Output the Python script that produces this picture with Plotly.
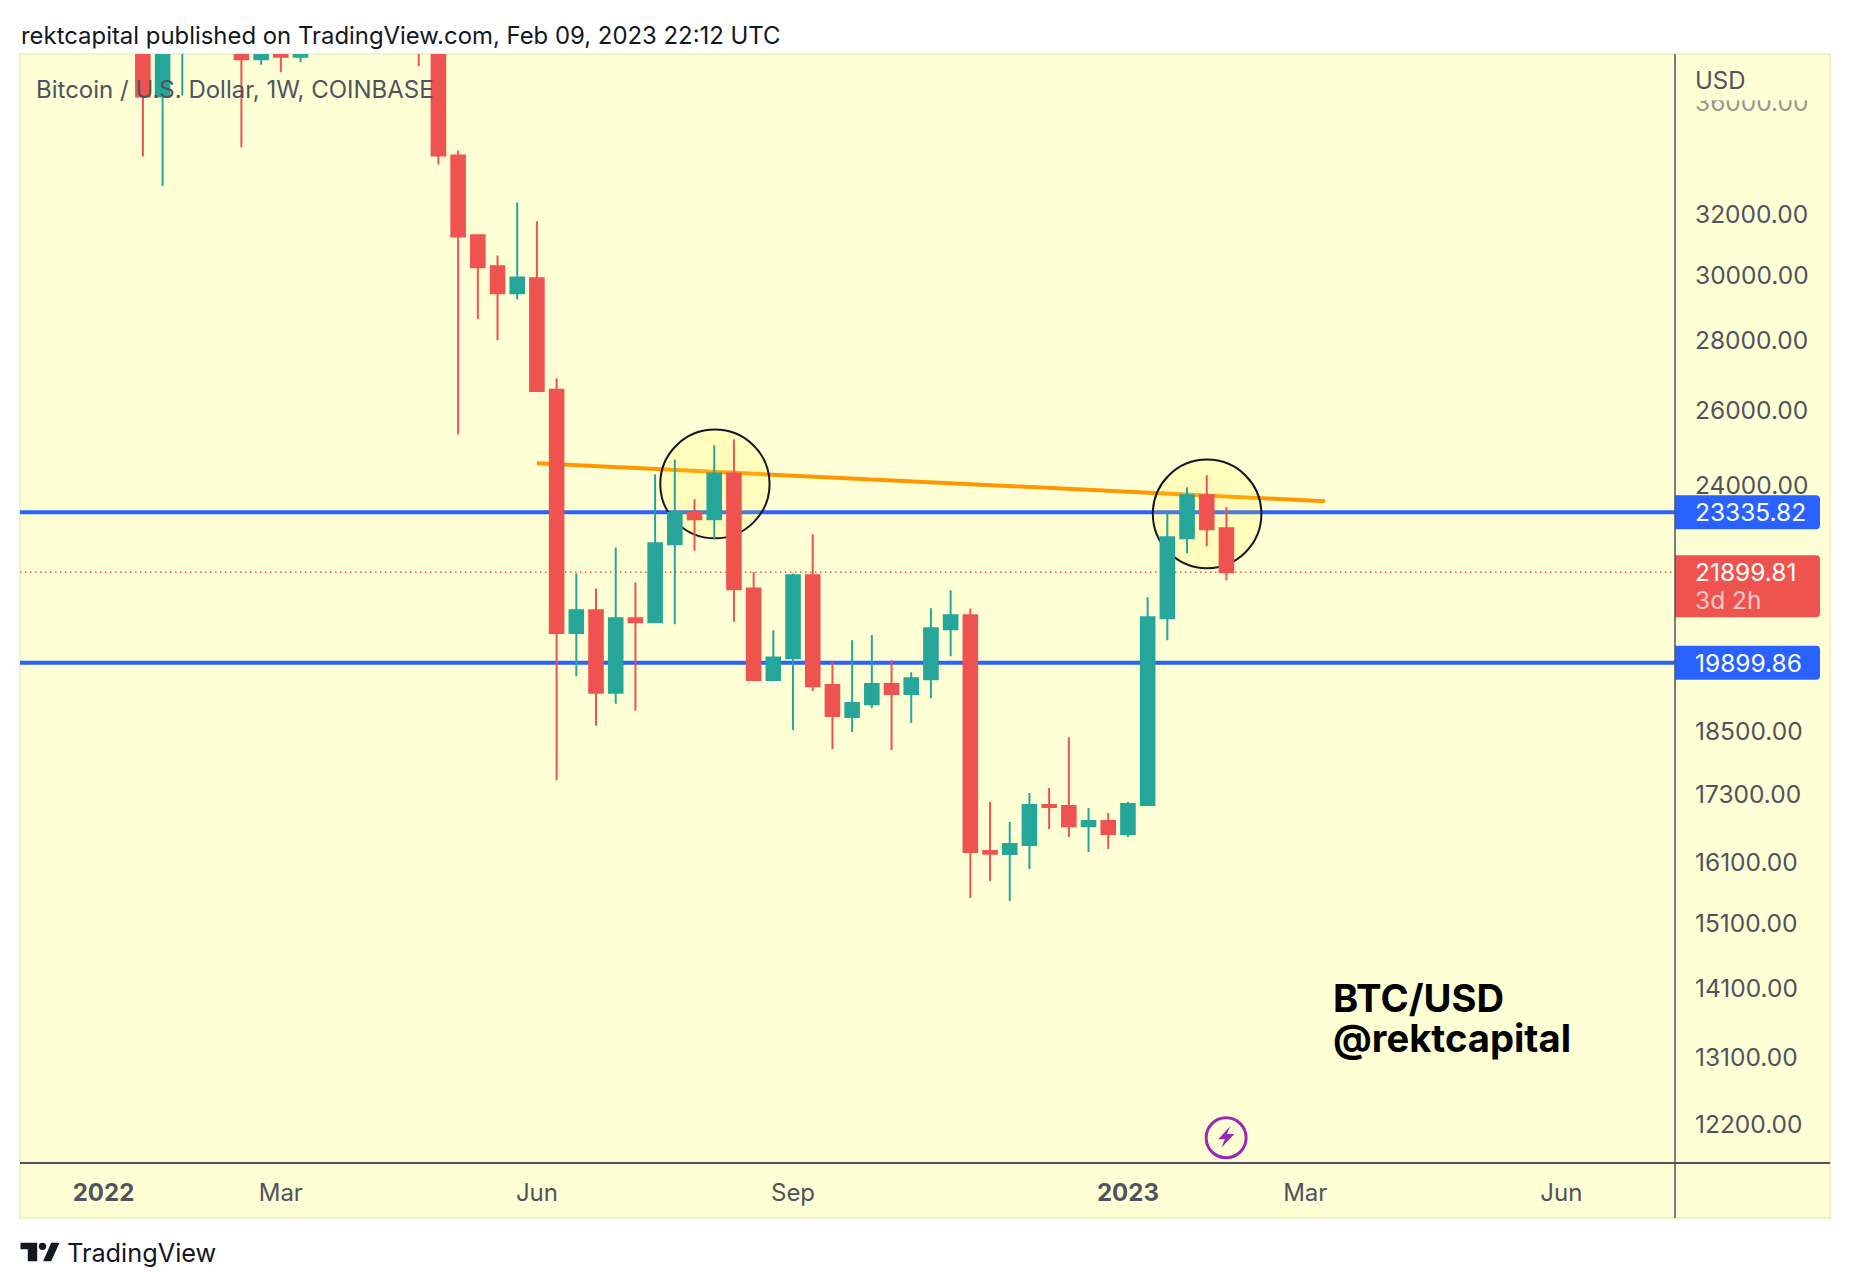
"""BTC/USD weekly chart in the TradingView style, rebuilt with Plotly."""
import math

import plotly.graph_objects as go

# chart frame in page pixels
LEFT, RIGHT, TOP, BOTTOM = 19.5, 1675, 53.5, 1163
PANEL_RIGHT, PANEL_BOTTOM = 1830, 1218
# the page body keeps its default margin around the figure
BODY_MARGIN = 8
FIG_W, FIG_H = 1850 - 2 * BODY_MARGIN, 1288 - 2 * BODY_MARGIN

BG = "#ffffd6"
TEXT = "#50535e"
RED = "#ef5350"
GREEN = "#26a69a"
BLUE = "#2962ff"
ORANGE = "#ff9800"
PURPLE = "#9c27b0"
INK = "#131722"
FONT = "Inter"

weeks = [
    "2022-01-17", "2022-01-24", "2022-01-31", "2022-02-21", "2022-02-28", "2022-03-07",
    "2022-03-14", "2022-04-25", "2022-05-02", "2022-05-09", "2022-05-16", "2022-05-23",
    "2022-05-30", "2022-06-06", "2022-06-13", "2022-06-20", "2022-06-27", "2022-07-04",
    "2022-07-11", "2022-07-18", "2022-07-25", "2022-08-01", "2022-08-08", "2022-08-15",
    "2022-08-22", "2022-08-29", "2022-09-05", "2022-09-12", "2022-09-19", "2022-09-26",
    "2022-10-03", "2022-10-10", "2022-10-17", "2022-10-24", "2022-10-31", "2022-11-07",
    "2022-11-14", "2022-11-21", "2022-11-28", "2022-12-05", "2022-12-12", "2022-12-19",
    "2022-12-26", "2023-01-02", "2023-01-09", "2023-01-16", "2023-01-23", "2023-01-30",
    "2023-02-06",
]
opens = [
    43000, 36240, 38000, 38400, 37700, 39400,
    37800, 39500, 38500, 34047, 31285, 30275,
    29422, 29893, 26566, 20536, 21036, 19275,
    20857, 20771, 22559, 23318, 23162, 24310,
    21526, 19536, 19994, 21830, 19434, 18785,
    19043, 19453, 19248, 19555, 20618, 20925,
    16301, 16250, 16406, 17114, 17096, 16736,
    16829, 16598, 17114, 20857, 22701, 23760,
    22944,
]
highs = [
    43500, 38900, 41700, 39700, 45400, 42600,
    42300, 40800, 40000, 34228, 31307, 30628,
    32396, 31751, 26890, 21870, 21526, 22480,
    21662, 24291, 24675, 23658, 25050, 25210,
    21907, 20594, 21870, 22800, 19939, 20378,
    20490, 19952, 19699, 21082, 21488, 21075,
    17168, 16810, 17334, 17427, 18390, 17060,
    16970, 17168, 21328, 23360, 23962, 24269,
    23459,
]
lows = [
    34012, 32959, 36280, 34347, 37478, 37185,
    37580, 37421, 33725, 25337, 28623, 27994,
    29235, 26529, 17571, 19616, 18614, 19052,
    18912, 20771, 20727, 22400, 22678, 20778,
    19515, 19536, 18528, 19312, 18160, 18489,
    18963, 18141, 18666, 19165, 20035, 15510,
    15792, 15462, 15993, 16686, 16544, 16285,
    16336, 16544, 17114, 20378, 22342, 22512,
    21715,
]
closes = [
    36240, 37900, 41400, 37700, 39400, 37800,
    41300, 38500, 34047, 31250, 30242, 29422,
    29923, 26529, 20536, 21036, 19275, 20857,
    20771, 22579, 23318, 23162, 24310, 21510,
    19536, 20010, 21830, 19411, 18806, 19066,
    19453, 19248, 19574, 20640, 20925, 16285,
    16255, 16422, 17114, 17078, 16736, 16829,
    16598, 17133, 20880, 22726, 23760, 22918,
    21899.81,
]

price_ticks = [36000, 32000, 30000, 28000, 26000, 24000, 18500, 17300, 16100, 15100, 14100, 13100, 12200]
time_ticks = ["2022-01-03", "2022-03-07", "2022-06-06", "2022-09-05", "2023-01-02", "2023-03-06", "2023-06-05"]
time_labels = ["<b>2022</b>", "Mar", "Jun", "Sep", "<b>2023</b>", "Mar", "Jun"]

upper_level = 23335.82
lower_level = 19899.86
last_price = 21899.81
time_left = "3d 2h"

trend_dates = ["2022-06-06", "2023-03-13"]
trend_prices = [24575, 23610]
circle_dates = [("2022-07-19 20:00", "2022-08-27 16:00"), ("2023-01-10 20:00", "2023-02-18 10:00")]
circle_prices = [(22701, 25470), (21993, 24675)]
x_span = ["2021-12-04 08:00", "2023-07-15 09:00"]
y_span = [11716, 37907]


def fx(px):
    return (px - LEFT) / (RIGHT - LEFT)


def fy(py):
    return (BOTTOM - py) / (BOTTOM - TOP)


def page_rect(x0, y0, x1, y1, **kw):
    return dict(type="rect", xref="paper", yref="paper", x0=fx(x0), x1=fx(x1), y0=fy(y0), y1=fy(y1), **kw)


def page_path(points, fill):
    path = "M" + " L".join(f"{fx(a):.5f},{fy(b):.5f}" for a, b in points) + " Z"
    return dict(type="path", xref="paper", yref="paper", path=path, fillcolor=fill, line=dict(width=0), layer="above")


def page_circle(x0, y0, x1, y1, **kw):
    return dict(type="circle", xref="paper", yref="paper", x0=fx(x0), x1=fx(x1), y0=fy(y1), y1=fy(y0), layer="above", **kw)


def price_tag(price, color, up, down):
    # rounded on the right, flat where it meets the axis
    path = f"M0,{up} L141,{up} Q145,{up} 145,{up - 4} L145,{-down + 4} Q145,{-down} 141,{-down} L0,{-down} Z"
    return dict(type="path", xref="paper", yref="y", xsizemode="pixel", ysizemode="pixel",
                xanchor=1, yanchor=price, path=path, fillcolor=color, line=dict(width=0), layer="above")


def level_line(price, color, width, dash="solid"):
    return dict(type="line", xref="paper", yref="y", x0=0, x1=1, y0=price, y1=price,
                line=dict(color=color, width=width, dash=dash), layer="below")


def page_text(x, y, text, size, color=TEXT, anchor="left"):
    return dict(xref="paper", yref="paper", x=fx(x), y=fy(y), text=text, showarrow=False, xanchor=anchor,
                yanchor="middle", font=dict(family=FONT, size=size, color=color), borderpad=0)


def tag_text(price, text, color, size=24.5, shift=0):
    return dict(xref="paper", yref="y", x=1, y=math.log10(price), xshift=19, yshift=shift, text=text,
                showarrow=False, xanchor="left", yanchor="middle", borderpad=0,
                font=dict(family=FONT, size=size, color=color))


fig = go.Figure(go.Candlestick(
    x=weeks, open=opens, high=highs, low=lows, close=closes,
    increasing=dict(line=dict(color=GREEN, width=2), fillcolor=GREEN),
    decreasing=dict(line=dict(color=RED, width=2), fillcolor=RED),
    whiskerwidth=0,
    hoverinfo="skip",
))

shapes = [
    page_rect(LEFT, TOP, PANEL_RIGHT, PANEL_BOTTOM, fillcolor=BG, line=dict(color="#f0f3c8", width=2), layer="below"),
    level_line(upper_level, BLUE, 4),
    level_line(lower_level, BLUE, 4),
    level_line(last_price, RED, 1.5, "1.5px,3.5px"),
    dict(type="line", xref="x", yref="y", x0=trend_dates[0], x1=trend_dates[1], y0=trend_prices[0], y1=trend_prices[1],
         line=dict(color=ORANGE, width=4), layer="below"),
]
for (d0, d1), (p0, p1) in zip(circle_dates, circle_prices):
    shapes.append(dict(type="circle", xref="x", yref="y", x0=d0, x1=d1, y0=p0, y1=p1, layer="below",
                       fillcolor="rgba(255,235,59,0.17)", line=dict(color=INK, width=2)))
shapes += [
    # hides the upper half of the 36000 label under the USD header
    page_rect(RIGHT + 1, TOP + 1, PANEL_RIGHT - 1, 100, fillcolor=BG, line=dict(width=0), layer="above"),
    page_rect(RIGHT + 1, 100, PANEL_RIGHT - 1, 112, fillcolor="rgba(255,255,214,0.4)", line=dict(width=0), layer="above"),
    price_tag(upper_level, BLUE, 17, 17),
    price_tag(lower_level, BLUE, 17, 17),
    price_tag(last_price, RED, 17, 45),
    page_rect(LEFT, BOTTOM - 1, PANEL_RIGHT, BOTTOM + 1, fillcolor=TEXT, line=dict(width=0), layer="above"),
    page_rect(RIGHT - 0.75, TOP, RIGHT + 0.75, PANEL_BOTTOM, fillcolor=TEXT, line=dict(width=0), layer="above"),
    # lightning mark at the bottom of the chart
    page_circle(1206, 1117.7, 1246, 1157.7, fillcolor="rgba(0,0,0,0)", line=dict(color=PURPLE, width=3)),
    page_path([(1230.3, 1126), (1218, 1139.3), (1224.7, 1139.3), (1221.3, 1147.7), (1234.3, 1134), (1226.7, 1134)], PURPLE),
    # TradingView mark
    page_path([(20, 1242.7), (36.7, 1242.7), (36.7, 1261.3), (27.3, 1261.3), (27.3, 1249.3), (20, 1249.3)], INK),
    page_path([(50.7, 1242.7), (59, 1242.7), (50.7, 1261.3), (42.7, 1261.3)], INK),
    page_circle(38.3, 1242.7, 45.7, 1250, fillcolor=INK, line=dict(width=0)),
]

annotations = [
    page_text(19, 35, "rektcapital published on TradingView.com, Feb 09, 2023 22:12 UTC", 23.9, INK),
    page_text(35, 89.5, "Bitcoin / U.S. Dollar, 1W, COINBASE", 24, TEXT),
    page_text(1694, 80, "USD", 24, TEXT),
    page_text(1332, 998, "<b>BTC/USD</b>", 38.2, "#000000"),
    page_text(1332, 1038, "<b>@rektcapital</b>", 38.2, "#000000"),
    page_text(66, 1253, "TradingView", 25.3, INK),
    tag_text(upper_level, f"{upper_level:.2f}", "#ffffff"),
    tag_text(lower_level, f"{lower_level:.2f}", "#ffffff"),
    tag_text(last_price, f"{last_price:.2f}", "#ffffff"),
    tag_text(last_price, time_left, "rgba(255,255,255,0.7)", shift=-28),
]

fig.update_layout(
    width=FIG_W,
    height=FIG_H,
    autosize=False,
    showlegend=False,
    paper_bgcolor="#ffffff",
    plot_bgcolor="rgba(0,0,0,0)",
    boxgap=0.31,
    boxgroupgap=0,
    margin=dict(l=LEFT - BODY_MARGIN, r=FIG_W + BODY_MARGIN - RIGHT, t=TOP - BODY_MARGIN,
                b=FIG_H + BODY_MARGIN - BOTTOM, pad=0),
    font=dict(family=FONT, color=TEXT, size=24),
    shapes=shapes,
    annotations=annotations,
)
fig.update_xaxes(
    type="date",
    range=x_span,
    rangeslider_visible=False,
    showgrid=False,
    zeroline=False,
    showline=False,
    ticks="",
    tickmode="array",
    tickvals=time_ticks,
    ticktext=time_labels,
    ticklabelstandoff=13,
    tickfont=dict(family=FONT, size=24, color=TEXT),
)
fig.update_yaxes(
    type="log",
    range=[math.log10(y_span[0]), math.log10(y_span[1])],
    side="right",
    showgrid=False,
    zeroline=False,
    showline=False,
    ticks="",
    tickmode="array",
    tickvals=price_ticks,
    ticktext=[f"{p:.2f}" for p in price_ticks],
    ticklabelstandoff=19,
    tickfont=dict(family=FONT, size=24.5, color=TEXT),
)

fig.write_html("out.html")
